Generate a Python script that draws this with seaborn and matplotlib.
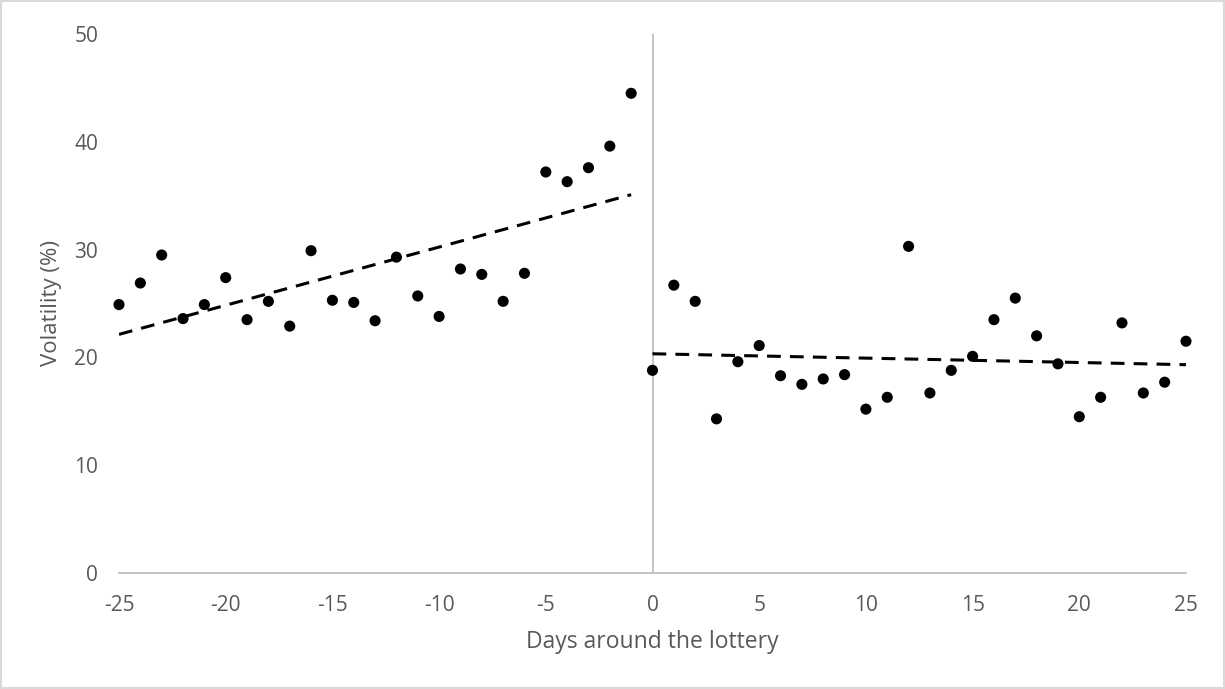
import numpy as np
import pandas as pd
import seaborn as sns
import matplotlib
matplotlib.use("Agg")
import matplotlib.pyplot as plt
from matplotlib.patches import Rectangle

# ---- data ----
days_before = list(range(-25, 0))
vol_before = [24.9, 26.9, 29.5, 23.6, 24.9, 27.4, 23.5, 25.2, 22.9, 29.9,
              25.3, 25.1, 23.4, 29.3, 25.7, 23.8, 28.2, 27.7, 25.2, 27.8,
              37.2, 36.3, 37.6, 39.6, 44.5]
days_after = list(range(0, 26))
vol_after = [18.8, 26.7, 25.2, 14.3, 19.6, 21.1, 18.3, 17.5, 18.0, 18.4,
             15.2, 16.3, 30.3, 16.7, 18.8, 20.1, 23.5, 25.5, 22.0, 19.4,
             14.5, 16.3, 23.2, 16.7, 17.7, 21.5]
x_ticks = [-25, -20, -15, -10, -5, 0, 5, 10, 15, 20, 25]
y_ticks = [0, 10, 20, 30, 40, 50]

sns.set_theme(style="white")
plt.rcParams['font.family'] = ['Open Sans', 'DejaVu Sans']

df = pd.DataFrame({
    "day": days_before + days_after,
    "vol": vol_before + vol_after,
    "period": ["before"] * len(days_before) + ["after"] * len(days_after),
})

fig = plt.figure(figsize=(12.25, 6.89), dpi=100)
ax = fig.add_axes([119 / 1225, 1 - 573 / 689, (1186 - 119) / 1225, (573 - 34) / 689])

grey_text = "#595959"
axis_grey = "#bfbfbf"

# vertical axis line at x = 0
ax.axvline(0, color=axis_grey, lw=1.3, zorder=1)

# linear trend lines per period
for sub in [df[df.period == "before"], df[df.period == "after"]]:
    coef = np.polyfit(sub.day, sub.vol, 1)
    xs = np.array([sub.day.min(), sub.day.max()])
    ax.plot(xs, np.polyval(coef, xs), color="black", lw=2.2,
            dashes=(4.5, 3), zorder=2, solid_capstyle="butt")

sns.scatterplot(data=df, x="day", y="vol", ax=ax, color="black", s=64,
                edgecolor="none", zorder=3, clip_on=False, legend=False)

ax.set_xlim(-25, 25)
ax.set_ylim(0, 50)
ax.set_xticks(x_ticks)
ax.set_yticks(y_ticks)
ax.set_xticklabels([str(t) for t in x_ticks])
ax.set_yticklabels([str(t) for t in y_ticks])
ax.tick_params(axis="both", length=0, labelsize=15, labelcolor=grey_text)
ax.tick_params(axis="x", pad=16)
ax.tick_params(axis="y", pad=15)

for s in ["top", "right", "left"]:
    ax.spines[s].set_visible(False)
ax.spines["bottom"].set_color(axis_grey)
ax.spines["bottom"].set_linewidth(1.3)

ax.set_xlabel("Days around the lottery", fontsize=16.5, color=grey_text, labelpad=10)
ax.set_ylabel("Volatility (%)", fontsize=16, color=grey_text, labelpad=9)

# chart-area border
fig.patches.append(Rectangle((0.001, 0.001), 0.998, 0.997, transform=fig.transFigure,
                             fill=False, edgecolor="#d9d9d9", lw=1.5))

fig.savefig("out.png", dpi=100, facecolor="white")
